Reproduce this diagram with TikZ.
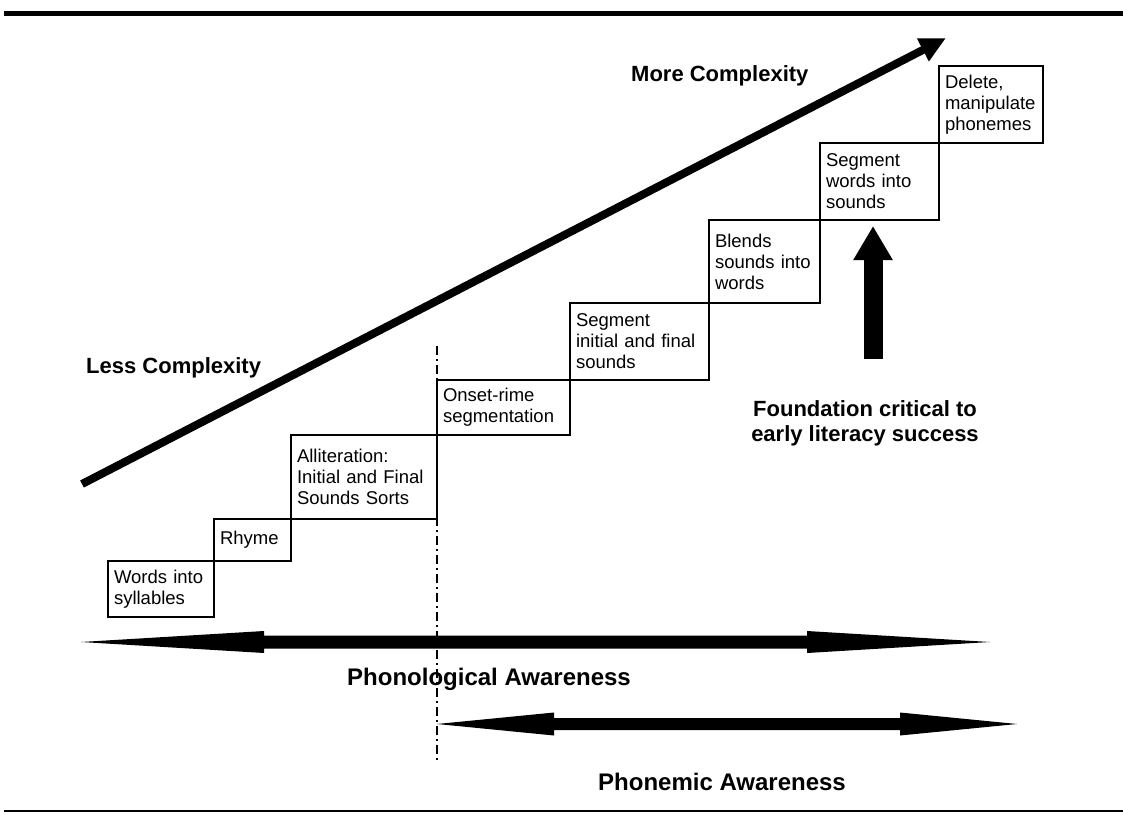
\documentclass[tikz,border=0pt]{standalone}
\usepackage{fontspec}
\setmainfont{Liberation Sans}
\usetikzlibrary{arrows.meta}

\begin{document}
\begin{tikzpicture}[x=1pt,y=-1pt,
  stair/.style={draw, line width=1.3pt, rectangle, outer sep=0pt, inner xsep=6pt, inner ysep=0pt,
    align=left, anchor=south west, font=\fontsize{18.5}{21}\selectfont},
  boldlabel/.style={inner sep=0pt, font=\fontsize{22}{25}\selectfont\bfseries},
  awarelabel/.style={inner sep=0pt, font=\fontsize{24}{28}\selectfont\bfseries}]

\useasboundingbox (0,0) rectangle (1123,813);

%% Rules
\draw[line width=5.5pt] (4,13.5)--(1123,13.5);
\draw[line width=2pt] (4,811)--(1123,811);

%% Staircase
\node[stair, text width=94pt, minimum height=56pt] (words) at (108,617) {Words into\\syllables};
\node[stair, text width=65pt, minimum height=42pt] (rhyme) at (words.north east) {Rhyme};
\node[stair, text width=134pt, minimum height=84pt] (allit) at (rhyme.north east) {Alliteration:\\Initial and Final\\Sounds Sorts};
\node[stair, text width=121pt, minimum height=55pt] (onset) at (allit.north east) {Onset-rime\\segmentation};
\node[stair, text width=127pt, minimum height=77pt] (seginit) at (onset.north east) {Segment\\initial and final\\sounds};
\node[stair, text width=99pt, minimum height=83pt] (blends) at (seginit.north east) {Blends\\sounds into\\words};
\node[stair, text width=107pt, minimum height=77pt] (segwords) at (blends.north east) {Segment\\words into\\sounds};
\node[stair, text width=92pt, minimum height=77pt] (delete) at (segwords.north east) {Delete,\\manipulate\\phonemes};

%% Divider
\coordinate (divtop) at (437,346);
\coordinate (divbot) at (437,762);
\draw[line width=1.5pt, dash pattern=on 9pt off 4pt on 2pt off 4pt] (divtop)--(divbot);

%% Complexity arrow
\coordinate (lessend) at (82,484);
\coordinate (moretip) at (946,38);
\draw[line width=8pt, -{Triangle[length=26pt,width=24pt]}] (lessend)--(moretip);
\node[boldlabel, anchor=base west] (less) at (86,373) {Less Complexity};
\node[boldlabel, anchor=base west] (more) at (631,82) {More Complexity};

%% Foundation
\coordinate (upbot) at (873,359);
\coordinate (uptop) at (873,226);
\draw[line width=19pt, -{Triangle[length=34pt,width=37pt]}] (upbot)--(uptop);
\node[boldlabel, align=center, anchor=north] (found) at (865,400) {Foundation critical to\\early literacy success};

%% Awareness arrows
\coordinate (phonoL) at (81,642);
\coordinate (phonoR) at (990,642);
\fill (phonoL) -- ++(183,-11) -- ++(0,4.5) -- ++(543,0) -- ++(0,-4.5) -- (phonoR)
  -- ++(-183,11) -- ++(0,-4.5) -- ++(-543,0) -- ++(0,4.5) -- cycle;
\node[awarelabel, anchor=base] (phono) at (489,685) {Phonological Awareness};

\coordinate (phonemL) at (437,724);
\coordinate (phonemR) at (1017,724);
\fill (phonemL) -- ++(117,-11.5) -- ++(0,5.5) -- ++(346,0) -- ++(0,-5.5) -- (phonemR)
  -- ++(-117,11.5) -- ++(0,-5.5) -- ++(-346,0) -- ++(0,5.5) -- cycle;
\node[awarelabel, anchor=base] (phonem) at (722,790) {Phonemic Awareness};

\end{tikzpicture}
\end{document}
